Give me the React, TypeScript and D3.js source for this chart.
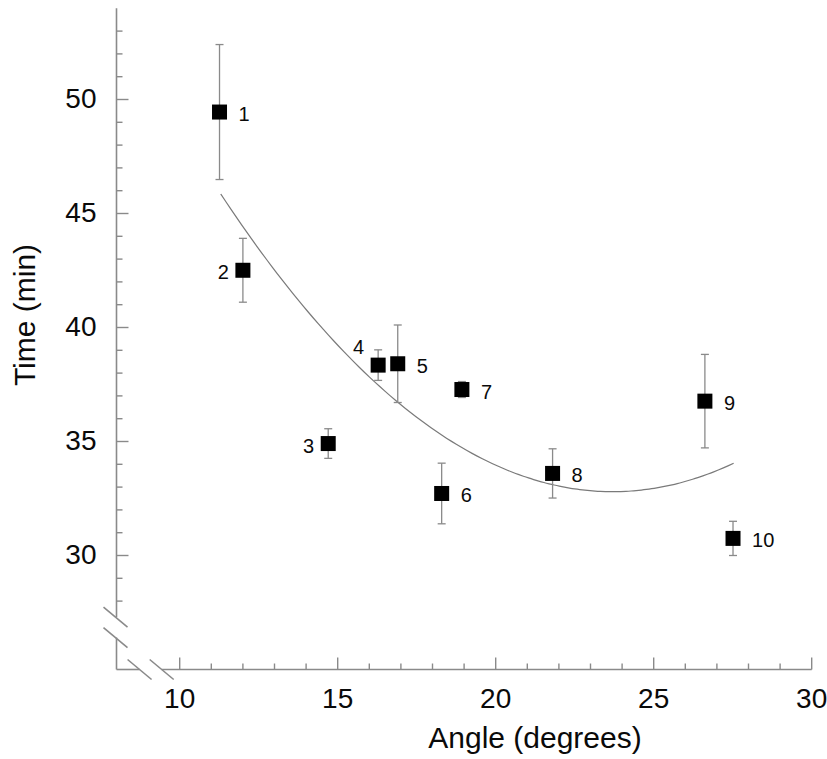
import React from "react";
import * as d3 from "d3";

// ---- data ----
const pointIds = ["1", "2", "3", "4", "5", "6", "7", "8", "9", "10"];
const angles = [11.26, 12.0, 14.7, 16.28, 16.9, 18.29, 18.93, 21.8, 26.62, 27.51];
const times = [49.45, 42.51, 34.91, 38.35, 38.41, 32.72, 37.28, 33.6, 36.77, 30.75];
const errors = [2.96, 1.4, 0.65, 0.67, 1.7, 1.33, 0.35, 1.08, 2.05, 0.75];
const labelSide = ["r", "l", "l", "tl", "r", "r", "r", "r", "r", "r"];
// quadratic fit: t = a*(angle - h)^2 + k
const fitA = 0.0849;
const fitH = 23.7;
const fitK = 32.8;
const fitRange = [11.3, 27.53];
const xTickValues = d3.range(10, 31, 1);
const yTickValues = d3.range(28, 54, 1);
const xBreak = [8.73, 9.43];
const yBreak = [26.4, 27.3];

const W = 827;
const H = 759;

export default function App() {
  const x = d3.scaleLinear().domain([8, 30]).range([116.5, 811.7]);
  const y = d3.scaleLinear().domain([25, 54]).range([669.5, 8.3]);
  const axisColor = "#8a8a8a";
  const font = "'Liberation Sans', Arial, Helvetica, sans-serif";

  const fitXs = d3.range(0, 101).map((i) => fitRange[0] + ((fitRange[1] - fitRange[0]) * i) / 100);
  const fitLine = d3
    .line<number>()
    .x((v) => x(v))
    .y((v) => y(fitA * (v - fitH) ** 2 + fitK))
    .curve(d3.curveMonotoneX);

  const slash = (cx: number, cy: number, key: string) => (
    <line key={key} x1={cx - 12} y1={cy - 10} x2={cx + 12} y2={cy + 10} stroke={axisColor} strokeWidth={1.6} />
  );

  const x0 = x(8);
  const y0 = y(25);
  const m = 15;

  return (
    <svg width={W} height={H} style={{ position: "absolute", left: 0, top: 0, background: "#fff" }} fontFamily={font}>
      {/* y axis */}
      <line x1={x0} x2={x0} y1={y(54)} y2={y(yBreak[1])} stroke={axisColor} strokeWidth={1.6} />
      <line x1={x0} x2={x0} y1={y(yBreak[0])} y2={y0} stroke={axisColor} strokeWidth={1.6} />
      {slash(x0 - 1, y(yBreak[1]), "ys1")}
      {slash(x0 - 1, y(yBreak[0]), "ys2")}
      {/* x axis */}
      <line x1={x0} x2={x(xBreak[0])} y1={y0} y2={y0} stroke={axisColor} strokeWidth={1.6} />
      <line x1={x(xBreak[1])} x2={x(30)} y1={y0} y2={y0} stroke={axisColor} strokeWidth={1.6} />
      {slash(x(xBreak[0]), y0, "xs1")}
      {slash(x(xBreak[1]), y0, "xs2")}

      {yTickValues.map((v) => {
        const major = v % 5 === 0;
        return (
          <g key={"yt" + v}>
            <line x1={x0} x2={x0 + (major ? 12 : 6)} y1={y(v)} y2={y(v)} stroke={axisColor} strokeWidth={1.4} />
            {major && (
              <text x={x0 - 20} y={y(v) + 8} textAnchor="end" fontSize={28} fill="#0a0a0a">
                {v}
              </text>
            )}
          </g>
        );
      })}
      {xTickValues.map((v) => {
        const major = v % 5 === 0;
        return (
          <g key={"xt" + v}>
            <line x1={x(v)} x2={x(v)} y1={y0} y2={y0 - (major ? 12 : 6)} stroke={axisColor} strokeWidth={1.4} />
            {major && (
              <text x={x(v)} y={y0 + 38} textAnchor="middle" fontSize={28} fill="#0a0a0a">
                {v}
              </text>
            )}
          </g>
        );
      })}

      <text x={535} y={748} textAnchor="middle" fontSize={30} fill="#0a0a0a">
        Angle (degrees)
      </text>
      <text transform={`translate(35,315) rotate(-90)`} textAnchor="middle" fontSize={30} fill="#0a0a0a">
        Time (min)
      </text>

      {/* fit curve */}
      <path d={fitLine(fitXs) || ""} fill="none" stroke="#7a7a7a" strokeWidth={1.2} />

      {/* error bars and points */}
      {angles.map((a, i) => {
        const cx = x(a);
        const cy = y(times[i]);
        const yt = y(times[i] + errors[i]);
        const yb = y(times[i] - errors[i]);
        const side = labelSide[i];
        let lx = cx + 19;
        let ly = cy + 2;
        let anchor: "start" | "end" = "start";
        if (side === "l") {
          lx = cx - 14;
          anchor = "end";
        } else if (side === "tl") {
          lx = cx - 14;
          ly = cy - 18;
          anchor = "end";
        }
        return (
          <g key={"p" + i}>
            <line x1={cx} x2={cx} y1={yt} y2={yb} stroke="#8a8a8a" strokeWidth={1.3} />
            <line x1={cx - 4} x2={cx + 4} y1={yt} y2={yt} stroke="#8a8a8a" strokeWidth={1.3} />
            <line x1={cx - 4} x2={cx + 4} y1={yb} y2={yb} stroke="#8a8a8a" strokeWidth={1.3} />
            <rect x={cx - m / 2} y={cy - m / 2} width={m} height={m} fill="#000" />
            <text x={lx} y={ly} textAnchor={anchor} dominantBaseline="central" fontSize={20} fill="#0a0a0a">
              {pointIds[i]}
            </text>
          </g>
        );
      })}
    </svg>
  );
}
